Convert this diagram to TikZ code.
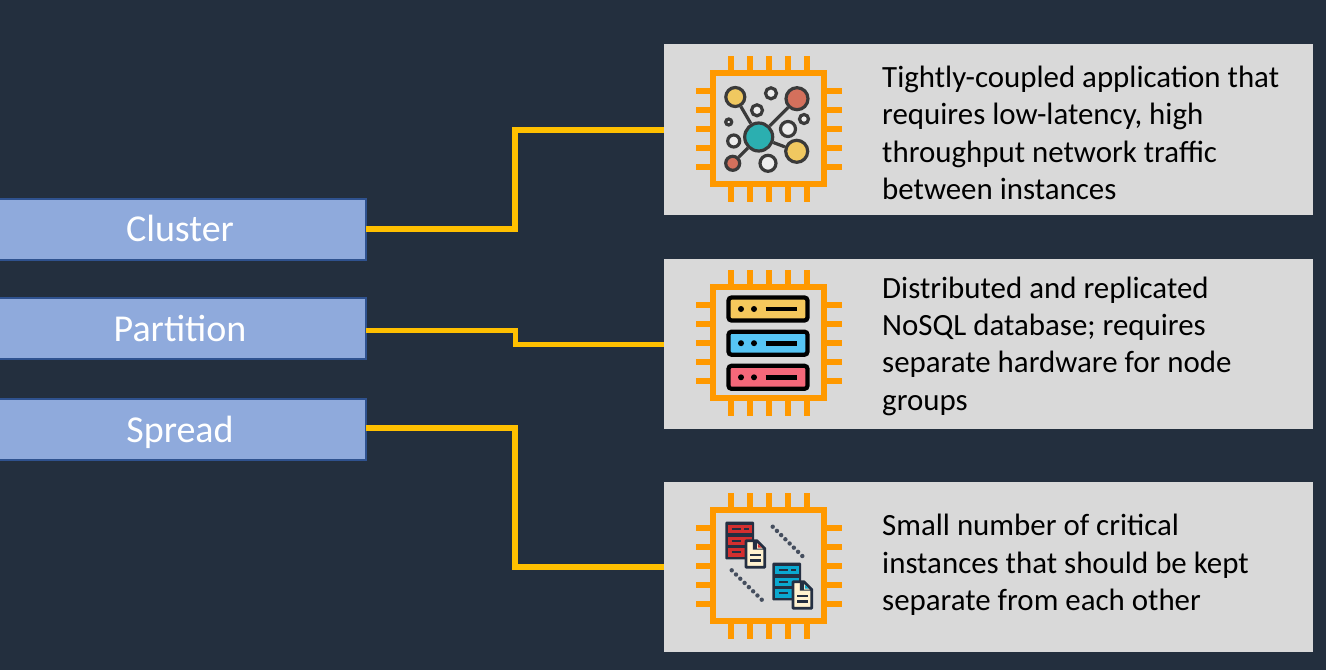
\documentclass[tikz,border=0pt]{standalone}
\usepackage{fontspec}
\setmainfont{Carlito}
\usetikzlibrary{positioning}
\definecolor{pagebg}{HTML}{232F3E}
\definecolor{boxfill}{HTML}{8FAADC}
\definecolor{boxline}{HTML}{2F528F}
\definecolor{panelfill}{HTML}{D9D9D9}
\definecolor{linkcol}{HTML}{FFC000}
\definecolor{chipcol}{HTML}{FF9900}
\definecolor{icongray}{HTML}{3A3A3A}
\definecolor{sunny}{HTML}{F0C860}
\definecolor{brick}{HTML}{D4705C}
\definecolor{teal}{HTML}{2BAFB0}
\definecolor{cloud}{HTML}{EDEDED}
\definecolor{rackyellow}{HTML}{F5C85C}
\definecolor{rackblue}{HTML}{56C5F5}
\definecolor{rackred}{HTML}{F5687A}
\definecolor{filecream}{HTML}{FFF2D0}
\definecolor{filenavy}{HTML}{242F42}
\definecolor{serverred}{HTML}{D42F2F}
\definecolor{serverblue}{HTML}{0AA8D0}
\tikzset{
  placebox/.style={rectangle, draw=boxline, line width=2pt, fill=boxfill, text=white, inner sep=0pt, outer sep=0pt,
    minimum width=372pt, minimum height=61pt, text height=27pt, text depth=2pt, font=\fontsize{38}{40}\selectfont},
  panel/.style={rectangle, fill=panelfill, inner sep=0pt, outer sep=0pt, minimum width=649pt, minimum height=170.5pt},
  infotext/.style={anchor=west, align=left, inner sep=0pt, text=black, font=\fontsize{30.9}{37.3}\selectfont},
  link/.style={draw=linkcol, line width=6pt, miter limit=10},
  icondot/.style={circle, draw=icongray, line width=3.2pt, inner sep=0pt, minimum size=#1},
  spoke/.style={draw=icongray, line width=3.2pt},
  pics/chip/.style={code={
    \draw[chipcol, line width=6pt] (-55.5,-55.5) rectangle (55.5,55.5);
    \foreach \k in {-38,-19,0,19,38} {
      \draw[chipcol, line width=6pt] (\k,-58) -- (\k,-72.5);
      \draw[chipcol, line width=6pt] (\k,58) -- (\k,73.5);
      \draw[chipcol, line width=6pt] (-58,\k) -- (-72.5,\k);
      \draw[chipcol, line width=6pt] (58,\k) -- (73.5,\k);
    }
  }},
  pics/rack/.style={code={
    \draw[black, line width=4.2pt, fill=#1, rounded corners=3pt] (-39.5,-11.5) rectangle (39.5,11.5);
    \fill[black] (-27,0) circle (3pt) (-14,0) circle (3pt);
    \draw[black, line width=4.6pt] (-2.5,0) -- (28.5,0);
  }},
  pics/serverfile/.style={code={
    \fill[filenavy, rounded corners=1pt] (0,0) rectangle (28.7,37.6);
    \foreach \k in {3,14.8,26.4} {
      \fill[#1] (3,\k) rectangle (26.4,\k+8.6);
      \draw[filenavy, line width=2pt] (6.3,\k+4.3) -- (15.7,\k+4.3);
    }
    \draw[filenavy, line width=2pt] (19,7.3) -- (23.7,7.3);
    \draw[filenavy, line width=2.8pt, fill=filecream, line join=round] (20.7,19) -- (31.5,19) -- (39.5,27) -- (39.5,45.5) -- (20.7,45.5) -- cycle;
    \fill[filenavy] (27.5,20) -- (31.5,20) -- (31.5,27) -- (38.5,27) -- (38.5,28) -- (27.5,28) -- cycle;
    \fill[#1] (32.5,22) -- (36.5,26) -- (32.5,26) -- cycle;
    \draw[filenavy, line width=2.5pt] (24.7,33.3) -- (35.3,33.3);
    \draw[filenavy, line width=2.5pt] (24.7,39) -- (35.3,39);
  }}
}

\begin{document}
\begin{tikzpicture}[x=1pt, y=-1pt]
  \fill[pagebg] (0,0) rectangle (1326,670);
  \useasboundingbox (0,0) rectangle (1326,670);
  % placement groups
  \node[placebox] (cluster) at (180,229) {Cluster};
  \node[placebox, below=38.5pt of cluster] (partition) {Partition};
  \node[placebox, below=40pt of partition] (spread) {Spread};
  % panels
  \node[panel] (panelA) at (988.5,129.5) {};
  \node[panel, below=44pt of panelA] (panelB) {};
  \node[panel, below=52.5pt of panelB] (panelC) {};
  \node[infotext] (textA) at (882,133) {Tightly-coupled application that\\requires low-latency, high\\throughput network traffic\\between instances};
  \node[infotext] (textB) at (882,346) {Distributed and replicated\\NoSQL database; requires\\separate hardware for node\\groups};
  \node[infotext] (textC) at (882,565) {Small number of critical\\instances that should be kept\\separate from each other};
  % connectors
  \coordinate (jointA) at (515,180);
  \coordinate (jointB) at (515,337);
  \coordinate (jointC) at (514.5,500);
  \draw[link] (cluster.east) -| (jointA) |- (panelA.west);
  \draw[link, line width=5pt] ([yshift=-1.5pt]partition.east) -| (jointB) |- (panelB.west);
  \draw[link] ([yshift=1.5pt]spread.east) -| (jointC) |- (panelC.west);
  % chips
  \pic at (768.5,128.5) {chip};
  \pic at (768.5,342.5) {chip};
  \pic at (768.5,565.5) {chip};
  % network icon
  \node[icondot=28pt, fill=teal] (hub) at (758.7,137) {};
  \node[icondot=19pt, fill=sunny] (sunA) at (735.3,97) {};
  \node[icondot=22pt, fill=brick] (brickA) at (797,98.7) {};
  \node[icondot=22pt, fill=sunny] (sunB) at (796.7,151.3) {};
  \node[icondot=14pt, fill=brick] (brickB) at (732.7,163.3) {};
  \foreach \n in {sunA,brickA,sunB,brickB} \draw[spoke] (hub) -- (\n);
  \foreach \x/\y/\s in {771/93.3/11, 757/110.3/11, 728.7/122/6, 804/119/9, 788/129/15, 733.7/141/12, 768/163.3/16}
    \node[icondot=\s pt, fill=cloud] at (\x,\y) {};
  % rack icon
  \pic at (768,309) {rack=rackyellow};
  \pic at (768,343.2) {rack=rackblue};
  \pic at (768,377.3) {rack=rackred};
  % spread icon
  \pic at (725.3,521.7) {serverfile=serverred};
  \pic at (772.3,562.7) {serverfile=serverblue};
  \foreach \k in {0,...,7} {
    \fill[filenavy!85] (772.7+\k*4.23,526.7+\k*4.19) circle (2.2pt);
    \fill[filenavy!85] (731.7+\k*4.29,570.3+\k*4.2) circle (2.2pt);
  }
\end{tikzpicture}
\end{document}
